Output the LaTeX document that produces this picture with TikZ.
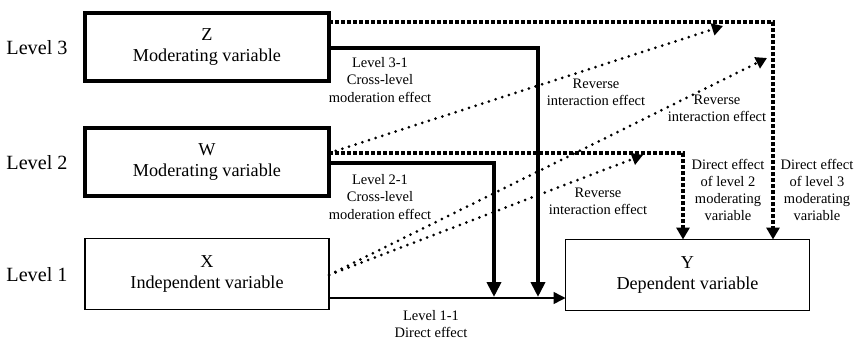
\documentclass[tikz,border=0pt]{standalone}
\usepackage{fontspec}
\setmainfont{Liberation Serif}
\usetikzlibrary{arrows.meta,calc}
\begin{document}
\begin{tikzpicture}[x=1pt,y=-1pt,
  box/.style={draw,rectangle,minimum width=244pt,inner sep=0pt,outer sep=0pt,align=center,
    font=\fontsize{18.2}{21.5}\selectfont},
  thickbox/.style={box,line width=4pt,minimum height=68pt},
  thinbox/.style={box,line width=1.5pt,minimum height=71pt},
  lvl/.style={font=\fontsize{20.2}{22}\selectfont},
  lab/.style={align=center,font=\fontsize{14.5}{17.2}\selectfont,inner sep=0pt},
  solidarrow/.style={line width=4pt,-{Triangle[width=14pt,length=15pt]}},
  plainarrow/.style={line width=1.5pt,-{Triangle[width=12pt,length=12pt]}},
  sqdot/.style={line width=3.5pt,dash pattern=on 3.5pt off 2.5pt},
  sqdotarrow/.style={sqdot,-{Triangle[width=13pt,length=12pt]}},
  rdot/.style={line width=3pt,line cap=round,dash pattern=on 0pt off 7pt,-{Triangle[width=12pt,length=11pt]}}
]
\useasboundingbox (0,0) rectangle (861,340);
% level labels
\node[lvl] (l3) at (37,48) {Level 3};
\node[lvl] (l2) at (37,163) {Level 2};
\node[lvl] (l1) at (37,275) {Level 1};
% boxes
\node[thickbox] (Z) at (207,47) {Z\\Moderating variable};
\node[thickbox] (W) at (207,162) {W\\Moderating variable};
\node[thinbox] (X) at (207,274) {X\\Independent variable};
\node[thinbox] (Y) at (687.5,275) {Y\\Dependent variable};
% helper coordinates
\coordinate (zc) at (773,22);
\coordinate (zs) at (538,48);
\coordinate (wc) at (683,153);
\coordinate (ws) at (494,163);
\coordinate (xyl) at (330,298);
\coordinate (xs) at (330,275);
\coordinate (d1) at (723,26);
\coordinate (d2) at (643,155);
\coordinate (d3) at (767,58);
% X -> Y direct
\draw[plainarrow] (X.east |- xyl) -- (Y.west |- xyl);
% Z connectors
\draw[sqdotarrow] (Z.east |- zc) -- (zc) -- (zc |- Y.north);
\draw[solidarrow] (Z.east |- zs) -- (zs) -- ([yshift=1pt]zs |- xyl);
% W connectors
\draw[sqdotarrow] (W.east |- wc) -- (wc) -- (wc |- Y.north);
\draw[solidarrow] (W.east |- ws) -- (ws) -- ([yshift=1pt]ws |- xyl);
% reverse interaction diagonals
\draw[rdot] (W.east |- wc) -- (d1);
\draw[rdot] (X.east |- xs) -- (d2);
\draw[rdot] (X.east |- xs) -- (d3);
% labels
\node[lab] (t31) at (380,80) {Level 3-1\\Cross-level\\moderation effect};
\node[lab] (t21) at (380,197) {Level 2-1\\Cross-level\\moderation effect};
\node[lab] (r1) at (596,92) {Reverse\\interaction effect};
\node[lab] (r2) at (717,108) {Reverse\\interaction effect};
\node[lab] (r3) at (598,201) {Reverse\\interaction effect};
\node[lab] (de2) at (728,190) {Direct effect\\of level 2\\moderating\\variable};
\node[lab] (de3) at (817,190) {Direct effect\\of level 3\\moderating\\variable};
\node[lab] (l11) at (431,324) {Level 1-1\\Direct effect};
\end{tikzpicture}
\end{document}
